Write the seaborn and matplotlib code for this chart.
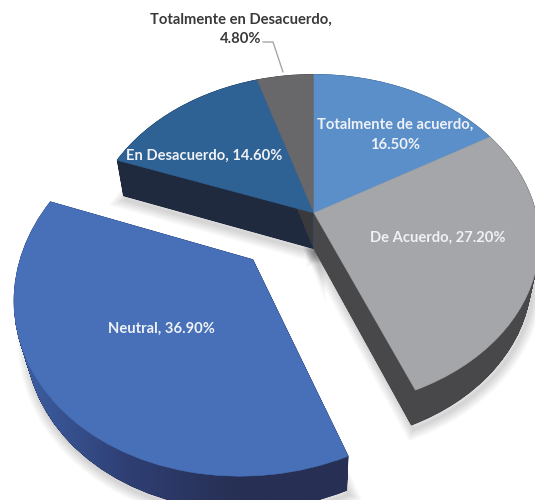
import numpy as np
import matplotlib
matplotlib.use("Agg")
import matplotlib.pyplot as plt
import seaborn as sns
from matplotlib.patches import PathPatch
from matplotlib.path import Path
from matplotlib.transforms import Transform, Affine2D

categories = ["Totalmente de acuerdo", "De Acuerdo", "Neutral", "En Desacuerdo", "Totalmente en Desacuerdo"]
values = [16.5, 27.2, 36.9, 14.6, 4.8]
explode = [0, 0, 0.38, 0, 0]
top_colors = ["#5b8fc9", "#a5a6a9", "#4870b8", "#2e6194", "#68686b"]
side_colors = ["#2b4a70", "#48484a", "#2a3358", "#1f2a3f", "#3a3a3c"]
draw_order = [3, 4, 0, 1, 2]

CENTER_X, CENTER_Y = 314, 213
SCALE_X, SCALE_Y = 222, 162
TILT = 0.169
DEPTH = 37
DEPTH_TILT = 0.035


class Perspective(Transform):
    input_dims = 2
    output_dims = 2
    is_separable = False

    def __init__(self, z=0.0):
        super().__init__()
        self.z = z

    def transform_non_affine(self, xy):
        xy = np.asarray(xy)
        w = 1 + TILT * xy[:, 1] + DEPTH_TILT * self.z
        px = CENTER_X + SCALE_X * xy[:, 0] / w
        py = CENTER_Y - (SCALE_Y * xy[:, 1] - DEPTH * self.z) / w
        return np.column_stack([px, py])


sns.set_theme(style="white")
plt.rcParams["font.family"] = ["Lato", "DejaVu Sans"]

fig = plt.figure(figsize=(5.35, 5), dpi=100)
ax = fig.add_axes([0, 0, 1, 1])
wedges, _ = ax.pie(values, explode=explode, colors=top_colors, startangle=90,
                   counterclock=False, radius=1)
ax.set_aspect("auto")
ax.set_xlim(0, 535)
ax.set_ylim(500, 0)
ax.axis("off")

# soft shadow under the bottom of the slab
for i in draw_order:
    bottom = Perspective(1.0).transform_path(wedges[i].get_path())
    shift = Affine2D().translate(2, 4) + ax.transData
    for lw in [2, 4, 6, 8, 10, 12, 14]:
        ax.add_patch(PathPatch(bottom, facecolor="none", edgecolor="black", alpha=0.022,
                               lw=lw, transform=shift, zorder=1))

layers = np.linspace(0, 1, 60)
for order, i in enumerate(draw_order):
    base = 2 + order
    path = wedges[i].get_path()
    stack = Path.make_compound_path(*[Perspective(z).transform_path(path) for z in layers])
    side = PathPatch(stack, facecolor=side_colors[i], edgecolor=side_colors[i], lw=0.5,
                     transform=ax.transData, zorder=base)
    ax.add_patch(side)
    if categories[i] == "Neutral":
        # this side goes from lighter on the left to navy at the front
        ramp = sns.blend_palette(["#3c60a4", "#2f3f74", "#273054", "#273054"], 64)
        box = stack.get_extents()
        im = ax.imshow(np.array(ramp)[np.newaxis, :, :], aspect="auto", zorder=base + 0.1,
                       extent=[box.x0, box.x1, box.y1, box.y0], interpolation="bilinear")
        im.set_clip_path(side)
    # top faces go above every side so a back slice never covers its neighbour
    wedges[i].set_transform(Perspective(0.0) + ax.transData)
    wedges[i].set_zorder(10 + order)
    wedges[i].set_edgecolor(top_colors[i])
    wedges[i].set_linewidth(0.4)

ax.set_xlim(0, 535)
ax.set_ylim(500, 0)

light = "#eef1f6"
label_style = dict(ha="center", va="center", fontsize=10.6, fontweight="bold", zorder=20)
ax.text(161, 329, f"{categories[2]}, {values[2]:.2f}%", color=light, **label_style)
ax.text(438, 238, f"{categories[1]}, {values[1]:.2f}%", color=light, **label_style)
ax.text(204, 156, f"{categories[3]}, {values[3]:.2f}%", color=light, **label_style)
ax.text(395, 125, f"{categories[0]},", color=light, **label_style)
ax.text(395, 145, f"{values[0]:.2f}%", color=light, **label_style)
ax.text(241, 20, f"{categories[4]},", color="#3a3a3a", **label_style)
ax.text(241, 39, f"{values[4]:.2f}%", color="#3a3a3a", **label_style)
ax.plot([263, 273, 283], [42, 42, 72], color="#a6a6a6", lw=1, zorder=20)

fig.savefig("out.png", dpi=100, facecolor="white")
